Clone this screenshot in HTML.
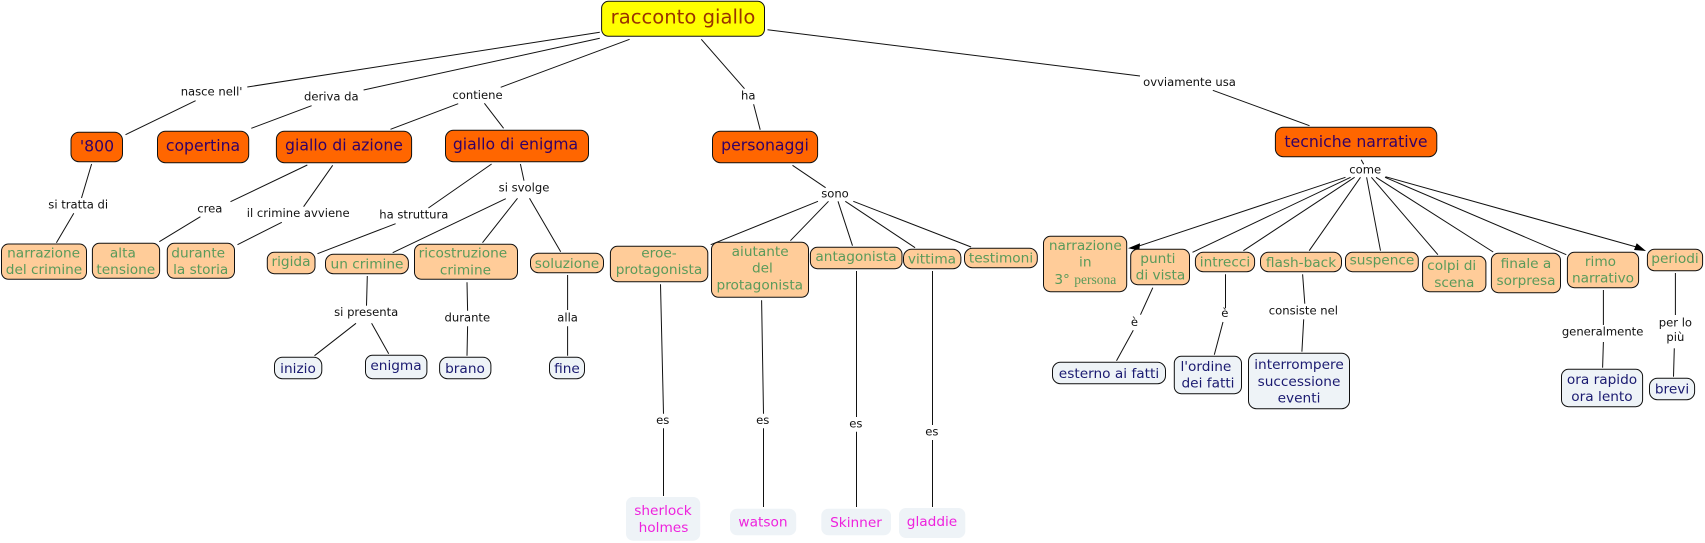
<!DOCTYPE html>
<html><head><meta charset="utf-8"><style>
html,body{margin:0;padding:0;background:#fff}
svg{display:block;filter:blur(.35px)}
text{font-family:"DejaVu Sans","Liberation Sans",sans-serif;text-anchor:middle;dominant-baseline:auto}
.l{font-size:11.6px;fill:#111}
.r{font-size:19.6px;fill:#993300}
.o{font-size:15.7px;fill:#330066}
.p{font-size:13.7px;fill:#5a9a5a}
.b{font-size:13.7px;fill:#1a1a70}
.m{font-size:13.7px;fill:#ee22dd}
rect{stroke:#111;stroke-width:1}
.fo{fill:#ff6600}.fp{fill:#ffcc99}.fb{fill:#eef3f7}.fm{fill:#eef3f7;stroke:none}
</style></head><body>
<svg width="1705" height="543" viewBox="0 0 1705 543" xmlns="http://www.w3.org/2000/svg">
<g stroke="#111" stroke-width="1" fill="none">
<path d="M599.8 32.3L247.3 87M195.6 100.7L125.5 134.7M599.8 38.3L363.6 90M311.6 105.7L251.3 128.3M629.6 39.3L500.7 87.3M458.2 103.7L390.5 129.3M484.4 103.3L503.6 128.3M701.3 39.3L744.5 88.7M753.6 104.3L760.2 129.7M767.5 29.7L1140 76M1212.8 90.3L1309.5 125.7"/>
<path d="M91.6 164L81.5 198M73.8 213.3L56.4 242.7M307.3 165L230.5 201.7M200.4 216.7L159.3 241.7M332.7 165.3L303.6 206.7M281.8 222.3L237.5 244.7M491.6 164L428.4 208M395.6 223.7L317.5 253.7M520.4 164L524 180.7M505.8 198.7L392.7 252.7M517.5 198.3L482.5 242.7M529.5 198.3L560.7 251.7"/>
<path d="M792.5 165.3L825.6 187.7M818 201.3L710.7 244.7M828.5 201.3L790.4 240.7M838 201.3L852.5 245.7M845.3 201.3L915.1 247.7M853.3 201.3L971.1 247"/>
<path d="M1361.2 159.7L1363.7 164.3M1345.5 177.3L1136.8 246.7M1350.6 177.3L1192.5 252.3M1354.6 177.3L1243.4 250.7M1360.5 177.3L1309.2 250.7M1366.6 177.3L1380.5 250.7M1371.4 177.3L1437.9 254.7M1376 177.3L1493.2 252M1385 177.3L1566.3 254.7M1385.5 176.7L1640 248"/>
<path d="M367.3 276L366.5 305.7M356 323.3L314.5 355.7M371.6 323.3L388.7 353.7M467 282.3L467.6 310.7M467.6 326.3L467 355.7M567.6 275L567.6 310M567.6 326.3L567.6 355.7"/>
<path d="M660.5 284.3L663.5 413.7M663.5 428.3L663.5 496M761.6 300.3L763.5 413.7M763.5 428.3L763.5 507M856.5 271L856.5 417M856.5 431.7L856.5 507M932.5 271L932.5 425M932.5 440L932.5 507"/>
<path d="M1152.8 287.7L1140.5 314.7M1133.3 330.3L1116.5 360.7M1225.5 274.3L1225.5 308.3M1223 322L1214.3 354.7M1302.6 274.3L1304.8 303.7M1303.7 319.3L1301.9 351.7M1603.4 290L1603.4 325M1603.4 342L1602.6 367.7M1675.4 273L1675.4 315M1674.3 348.3L1673.5 376.7"/>
</g>
<polygon points="1128,248.3 1140,243.3 1139.3,250.5" fill="#000"/>
<polygon points="1646,251 1636.7,243.3 1634,250" fill="#000"/>

<rect x="601.6" y="1.3" width="162.9" height="35" rx="7" fill="#ffff00"/>
<rect class="fo" x="71" y="132.3" width="51.5" height="29.4" rx="8"/>
<rect class="fo" x="157.5" y="131.3" width="91.2" height="31.4" rx="8"/>
<rect class="fo" x="276.4" y="131.3" width="135.2" height="31.4" rx="8"/>
<rect class="fo" x="445.5" y="130.3" width="143" height="31.4" rx="8"/>
<rect class="fo" x="712.5" y="131.3" width="105.1" height="31.4" rx="8"/>
<rect class="fo" x="1275.4" y="127.3" width="161.4" height="29.4" rx="8"/>

<rect class="fp" x="1.5" y="244" width="85" height="35.3" rx="7"/>
<rect class="fp" x="92.4" y="243.3" width="67.2" height="35" rx="7"/>
<rect class="fp" x="167.3" y="243.3" width="67.2" height="35" rx="7"/>
<rect class="fp" x="267.3" y="252.3" width="47.7" height="21.4" rx="7"/>
<rect class="fp" x="325.5" y="254.3" width="82.9" height="19.4" rx="8"/>
<rect class="fp" x="414.5" y="244.3" width="103" height="35" rx="7"/>
<rect class="fp" x="530.5" y="253.3" width="73" height="19.4" rx="8"/>
<rect class="fp" x="610.4" y="246.3" width="97.4" height="35.4" rx="7"/>
<rect class="fp" x="711.5" y="242.3" width="97" height="55" rx="7"/>
<rect class="fp" x="810.4" y="247.3" width="91.6" height="21.4" rx="7"/>
<rect class="fp" x="903.5" y="249.3" width="57.4" height="19.4" rx="8"/>
<rect class="fp" x="964.5" y="248.3" width="72.8" height="19.4" rx="8"/>
<rect class="fp" x="1043.5" y="236.3" width="83.2" height="55.4" rx="7"/>
<rect class="fp" x="1130.7" y="249.3" width="58.8" height="35.4" rx="7"/>
<rect class="fp" x="1195.4" y="252.3" width="59.2" height="19.4" rx="8"/>
<rect class="fp" x="1260.5" y="252.3" width="81" height="19.4" rx="8"/>
<rect class="fp" x="1345.5" y="252.3" width="72.8" height="19.4" rx="7"/>
<rect class="fp" x="1422.6" y="256.3" width="63.3" height="35.4" rx="7"/>
<rect class="fp" x="1491.4" y="253.3" width="69.1" height="39.4" rx="7"/>
<rect class="fp" x="1567.4" y="252.3" width="71.2" height="35.4" rx="7"/>
<rect class="fp" x="1647.4" y="249.3" width="55.2" height="21.4" rx="7"/>

<rect class="fb" x="274.5" y="357.3" width="47.3" height="21.4" rx="8"/>
<rect class="fb" x="365.5" y="355.3" width="61.4" height="23.4" rx="7"/>
<rect class="fb" x="439.6" y="357.3" width="51.3" height="21.4" rx="8"/>
<rect class="fb" x="549.5" y="357.3" width="35" height="21.4" rx="8"/>
<rect class="fb" x="1052.5" y="362.3" width="113" height="21.4" rx="8"/>
<rect class="fb" x="1174.3" y="356.3" width="67.2" height="37.4" rx="7"/>
<rect class="fb" x="1248.5" y="353.3" width="101" height="55.4" rx="8"/>
<rect class="fb" x="1561.5" y="369.3" width="81.1" height="37.4" rx="7"/>
<rect class="fb" x="1649.5" y="378.3" width="45.1" height="21.4" rx="8"/>

<rect class="fm" x="626" y="497" width="74.2" height="43.7" rx="7"/>
<rect class="fm" x="730" y="508.7" width="66.2" height="26.6" rx="7"/>
<rect class="fm" x="821.3" y="508.7" width="69.7" height="26.6" rx="7"/>
<rect class="fm" x="899" y="508" width="66.3" height="30" rx="7"/>

<text class="r" x="683" y="23.6">racconto giallo</text>
<text class="o" x="97" y="151.7">'800</text>
<text class="o" x="203" y="151">copertina</text>
<text class="o" x="344" y="150.7">giallo di azione</text>
<text class="o" x="515.5" y="149.7">giallo di enigma</text>
<text class="o" x="765" y="150.7">personaggi</text>
<text class="o" x="1356" y="147">tecniche narrative</text>

<text class="p" x="43.6" y="257.4">narrazione</text><text class="p" x="44" y="274.1">del crimine</text>
<text class="p" x="122.9" y="257.4">alta</text><text class="p" x="125.8" y="274.1">tensione</text>
<text class="p" x="198.2" y="257.4">durante</text><text class="p" x="200.7" y="274.1">la storia</text>
<text class="p" x="291" y="266.1">rigida</text>
<text class="p" x="367" y="268.4">un crimine</text>
<text class="p" x="462.9" y="257.4">ricostruzione</text><text class="p" x="465.5" y="274.4">crimine</text>
<text class="p" x="567" y="268.1">soluzione</text>
<text class="p" x="659" y="257.4">eroe-</text><text class="p" x="659" y="274.1">protagonista</text>
<text class="p" x="760.2" y="255.8">aiutante</text><text class="p" x="762.4" y="272.4">del</text><text class="p" x="759.8" y="289.4">protagonista</text>
<text class="p" x="856" y="260.8">antagonista</text>
<text class="p" x="932" y="263.4">vittima</text>
<text class="p" x="1001" y="262.4">testimoni</text>
<text class="p" x="1085.3" y="249.8">narrazione</text><text class="p" x="1085.3" y="266.4">in</text>
<text class="p" x="1085.3" y="284.1">3° <tspan style="font-family:'Liberation Serif',serif;font-size:13.5px">persona</tspan></text>
<text class="p" x="1157.9" y="263.1">punti</text><text class="p" x="1160.5" y="279.4">di vista</text>
<text class="p" x="1225" y="266.4">intrecci</text>
<text class="p" x="1301" y="266.8">flash-back</text>
<text class="p" x="1382" y="264.4">suspence</text>
<text class="p" x="1451.7" y="270.1">colpi di</text><text class="p" x="1454.3" y="286.8">scena</text>
<text class="p" x="1526" y="268.1">finale a</text><text class="p" x="1526" y="284.8">sorpresa</text>
<text class="p" x="1600.5" y="265.8">rimo</text><text class="p" x="1603" y="282.4">narrativo</text>
<text class="p" x="1675" y="263.1">periodi</text>

<text class="b" x="298" y="372.8">inizio</text>
<text class="b" x="396" y="369.8">enigma</text>
<text class="b" x="465" y="373.1">brano</text>
<text class="b" x="567" y="373.1">fine</text>
<text class="b" x="1109" y="378.1">esterno ai fatti</text>
<text class="b" x="1205.9" y="370.8">l'ordine</text><text class="b" x="1208" y="387.4">dei fatti</text>
<text class="b" x="1299" y="368.8">interrompere</text><text class="b" x="1299" y="385.8">successione</text><text class="b" x="1299" y="402.4">eventi</text>
<text class="b" x="1602" y="384.1">ora rapido</text><text class="b" x="1602" y="400.8">ora lento</text>
<text class="b" x="1672" y="393.4">brevi</text>

<text class="m" x="663" y="514.8">sherlock</text><text class="m" x="663.5" y="531.8">holmes</text>
<text class="m" x="763" y="526.4">watson</text>
<text class="m" x="856" y="526.8">Skinner</text>
<text class="m" x="932" y="526.1">gladdie</text>

<text class="l" x="211.6" y="95.5">nasce nell'</text>
<text class="l" x="331.3" y="100.5">deriva da</text>
<text class="l" x="477.5" y="99.2">contiene</text>
<text class="l" x="748.2" y="99.5">ha</text>
<text class="l" x="1189.5" y="86.2">ovviamente usa</text>
<text class="l" x="78.2" y="208.5">si tratta di</text>
<text class="l" x="209.8" y="212.5">crea</text>
<text class="l" x="298.2" y="217.2">il crimine avviene</text>
<text class="l" x="413.8" y="218.5">ha struttura</text>
<text class="l" x="524" y="191.5">si svolge</text>
<text class="l" x="835" y="197.5">sono</text>
<text class="l" x="1365.2" y="173.5">come</text>
<text class="l" x="366.2" y="316.2">si presenta</text>
<text class="l" x="467.3" y="321.5">durante</text>
<text class="l" x="567.6" y="321.5">alla</text>
<text class="l" x="662.7" y="424.2">es</text>
<text class="l" x="762.7" y="424.2">es</text>
<text class="l" x="855.8" y="427.5">es</text>
<text class="l" x="931.8" y="435.5">es</text>
<text class="l" x="1134.4" y="325.8">è</text>
<text class="l" x="1224.8" y="317.2">è</text>
<text class="l" x="1303.4" y="314.5">consiste nel</text>
<text class="l" x="1602.6" y="335.5">generalmente</text>
<text class="l" x="1675.4" y="326.5">per lo</text><text class="l" x="1675.4" y="341.2">più</text>
</svg>
</body></html>
